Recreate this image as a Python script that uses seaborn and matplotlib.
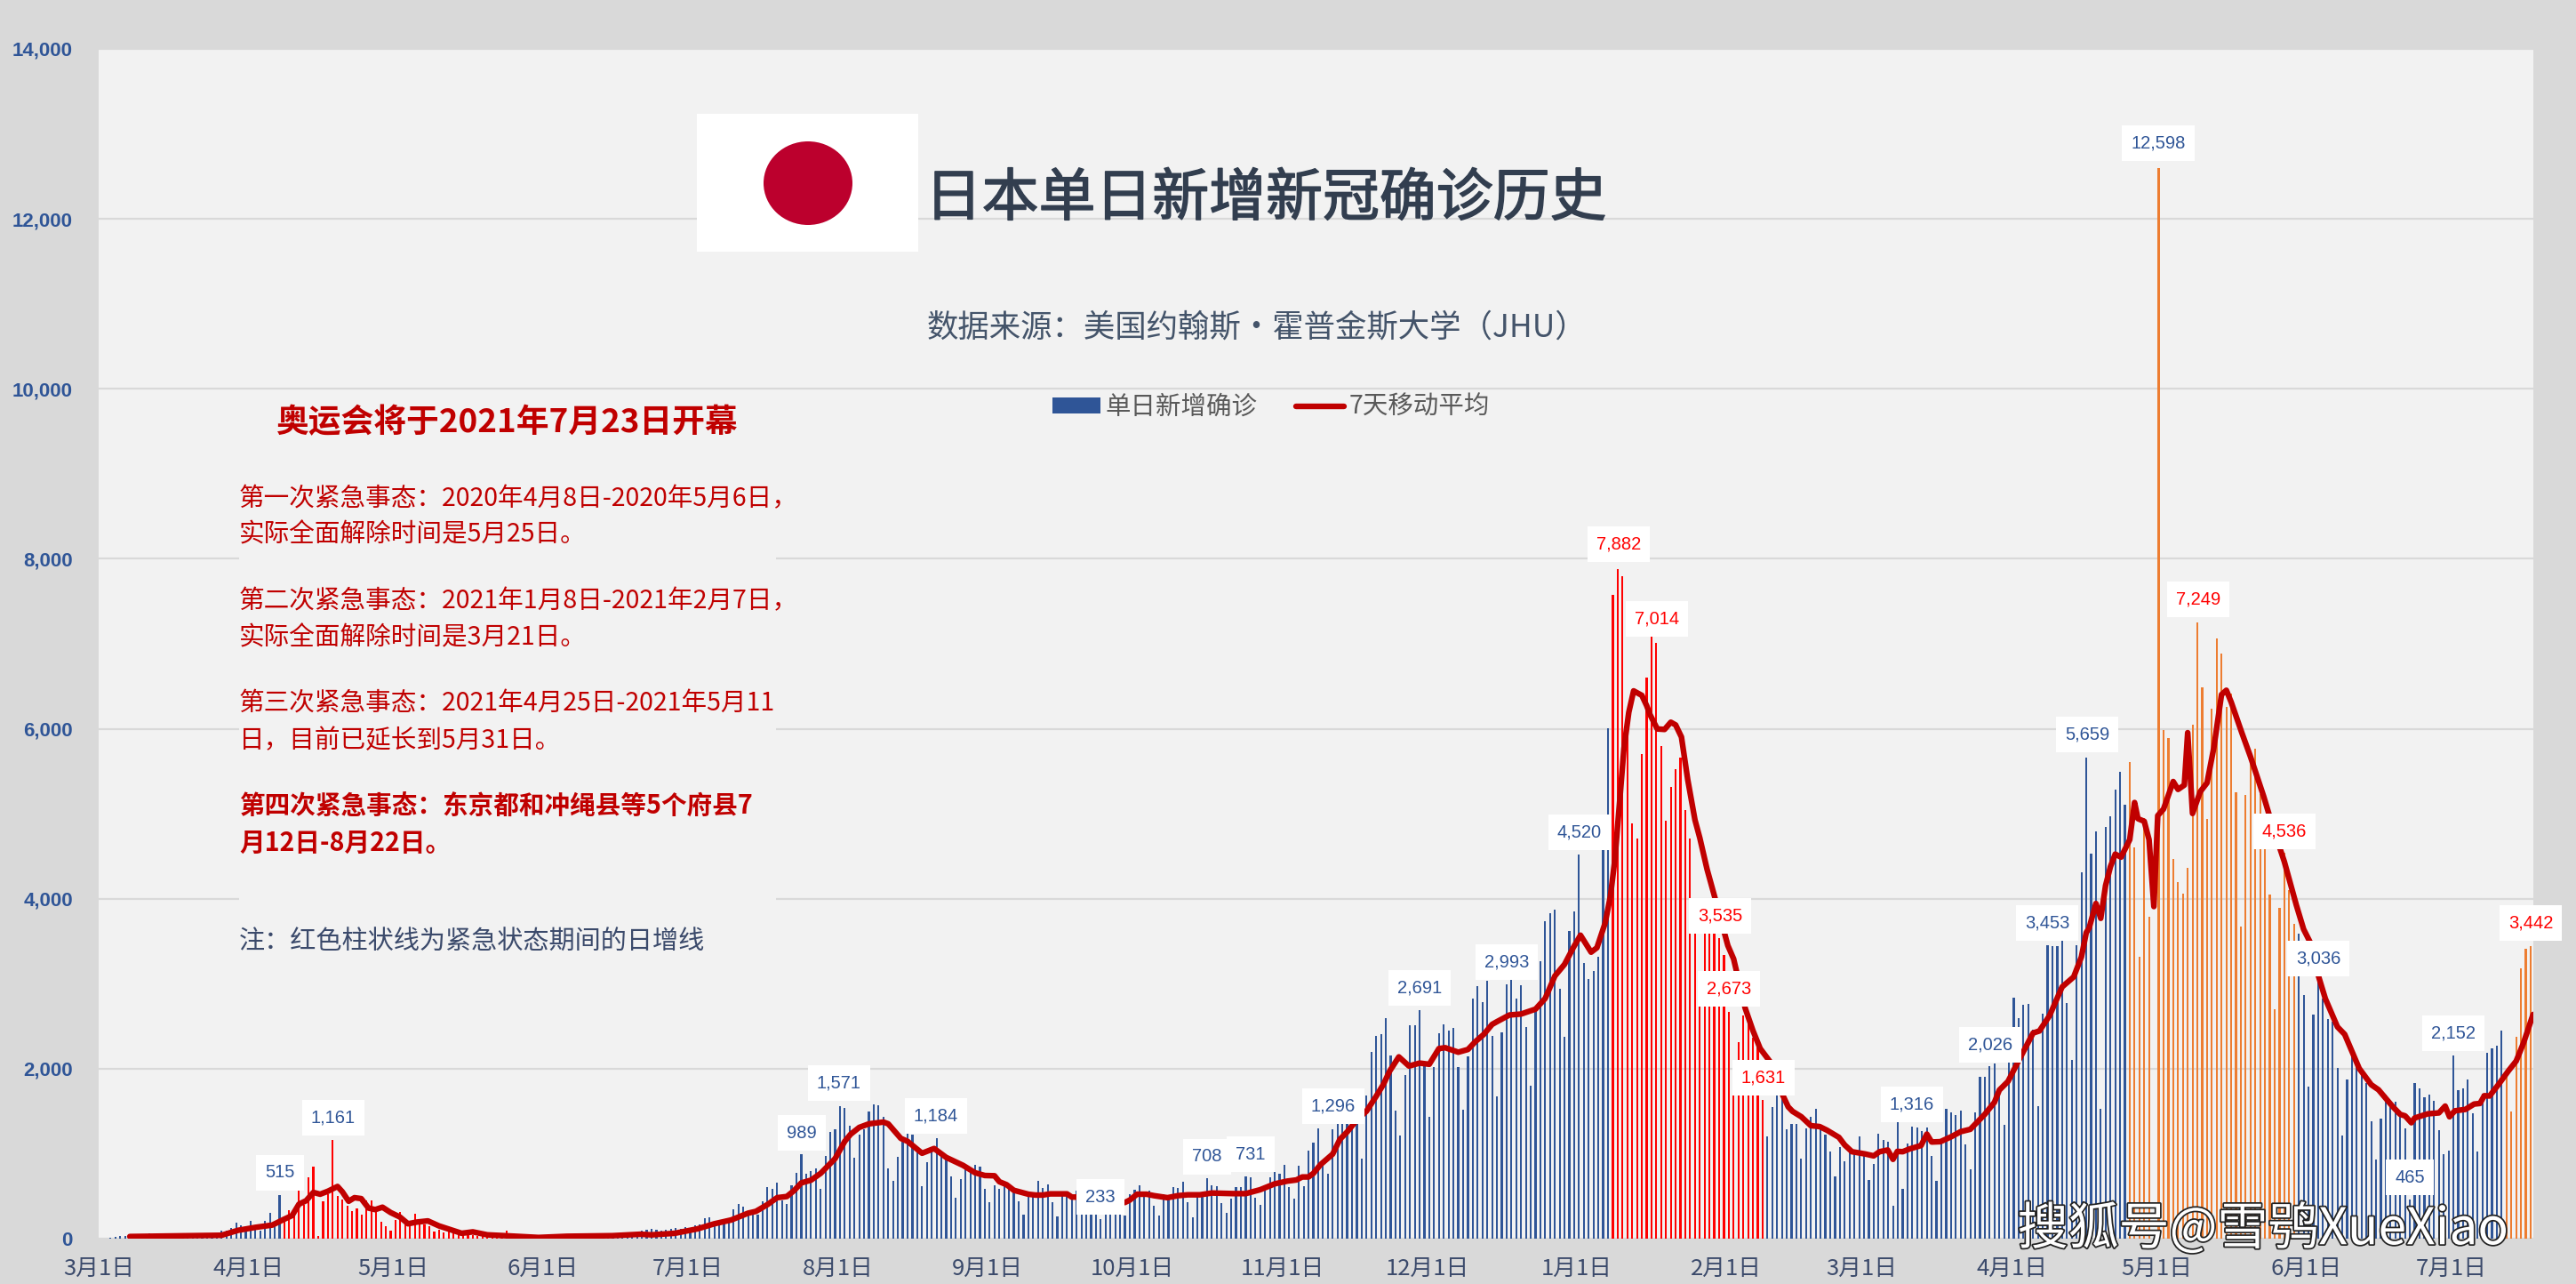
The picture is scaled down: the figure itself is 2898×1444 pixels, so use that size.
#!/usr/bin/python3
import matplotlib
matplotlib.use("Agg")
import matplotlib.pyplot as plt
import matplotlib.patheffects as pe
from matplotlib.lines import Line2D
from matplotlib.patches import Ellipse, Patch, Rectangle
import pandas as pd
import seaborn as sns

# daily new cases, day 0 is 2020-03-01
cases_spring_2020 = [0, 0, 14, 21, 33, 30, 38, 32, 26, 47, 59, 52, 55, 41, 40, 20, 40, 44, 38, 39,
                     41, 40, 63, 54, 65, 90, 95, 130, 185, 160, 135, 209, 140, 98, 209, 300, 150, 515,
                     240, 330, 290, 580, 400, 726, 851, 30, 440, 520, 1161, 500, 464, 390, 325, 360,
                     280, 447, 447, 340, 195, 150, 98, 220, 318, 180, 200, 290, 200, 170, 150, 80,
                     100, 70, 90, 80, 55, 60, 70, 40, 30, 45, 30, 25, 20, 20, 98, 20]
cases_summer_2020 = [30, 25, 35, 40, 45, 40, 35, 40, 45, 50, 40, 45, 50, 45, 40, 50, 60, 45, 50, 40,
                     60, 55, 65, 60, 50, 70, 90, 100, 110, 105, 90, 100, 110, 125, 115, 140, 130, 160,
                     170, 237, 255, 185, 160, 190, 200, 342, 412, 377, 300, 330]
cases_jul_aug = [280, 436, 604, 583, 656, 454, 408, 625, 771, 989, 761, 792, 827, 586, 970, 1253,
                 1284, 1560, 1539, 1330, 953, 1221, 1291, 1497, 1581, 1571, 1431, 827, 680, 960,
                 1152, 1256, 1225, 1012, 614, 900, 1047, 1184, 977, 942, 733, 482, 698, 820, 838, 866]
cases_aug_oct = [848, 586, 426, 628, 586, 645, 593, 558, 440, 279, 541, 523, 680, 597, 639, 429,
                 262, 541, 541, 471, 562, 400, 400, 420, 380, 233, 454, 454, 454, 384, 272, 523,
                 572, 628, 541, 565, 384, 272, 523, 516, 607, 597, 670, 426, 251, 541]
cases_oct_nov = [506, 708, 628, 614, 419, 304, 471, 604, 604, 731, 722, 482, 398, 576, 722, 785,
                 764, 869, 607, 471, 855, 618, 1037, 1127, 1296, 907, 764, 1288, 1368, 1396, 1431,
                 1396, 1396, 942, 1686, 2199, 2387, 2408, 2597, 2157, 1508, 1214, 1926, 2513, 2513, 2691]
cases_dec_jan = [2052, 1435, 2020, 2416, 2521, 2448, 2479, 2020, 1519, 2147, 2827, 2970, 2785, 3033,
                 2384, 1672, 2427, 2993, 3065, 2827, 2980, 2490, 1799, 2685, 3265, 3735, 3830, 3872,
                 2938, 2374, 3619, 3851, 4520, 3244, 3054, 3149, 3318, 4610, 6008, 7580, 7882, 7797,
                 6140, 4890, 4711, 5702]
cases_jan_feb = [6604, 7100, 7014, 5797, 4922, 5317, 5528, 5665, 5043, 4711, 3700, 2900, 3700, 3700,
                 3650, 3535, 3339, 2673, 1750, 2310, 2627, 2564, 2368, 2263, 1631, 1203, 1551, 1704,
                 1683, 1287, 1350, 1350, 944, 1298, 1435, 1525, 1313, 1219, 1023, 733, 1076, 907,
                 1013, 997, 1203, 971]
cases_mar_apr = [688, 880, 1230, 1157, 1137, 391, 1389, 583, 1116, 1316, 1304, 1263, 1304, 974, 676,
                 1116, 1524, 1483, 1450, 1503, 1108, 811, 1491, 1903, 1903, 2026, 2057, 1768, 1340,
                 2078, 2836, 2591, 2750, 2758, 2457, 1564, 2644, 3453, 3439, 3439, 3528, 2774, 2102,
                 3451, 4314, 5659]
cases_apr_jun = [4530, 4792, 1527, 4844, 4972, 5286, 5497, 5106, 5610, 4607, 3317, 4952, 3790, 0,
                 12598, 5985, 5893, 4468, 4196, 4062, 4366, 6052, 7249, 6489, 4941, 6237, 7065, 6880,
                 6258, 6417, 5255, 3671, 5224, 5620, 5769, 5234, 4800, 4052, 2700, 3893, 4536, 4100,
                 3702, 3589, 2869, 1789]
cases_jun_jul = [2638, 3036, 2827, 2586, 2551, 2010, 1215, 1874, 2143, 2038, 1933, 1829, 1382, 928,
                 1413, 1696, 1550, 1612, 1504, 1298, 465, 1832, 1769, 1665, 1696, 1623, 1277, 995,
                 1037, 2152, 1748, 1769, 1874, 1476, 1026, 1707, 2188, 2240, 2272, 2450, 1986, 1497,
                 2377, 3183, 3413, 3442]
cases = (cases_spring_2020 + cases_summer_2020 + cases_jul_aug + cases_aug_oct + cases_oct_nov
         + cases_dec_jan + cases_jan_feb + cases_mar_apr + cases_apr_jun + cases_jun_jul)
assert len(cases) == 504

# 7 day average at the points where the curve bends
ma_days = [6, 25, 28.4, 32, 35.5, 38, 39.6, 41, 42.5, 44, 45.4, 47, 49, 50, 51.3, 52.5, 53.9, 55.4,
           56.8, 58.3, 60, 61.9, 63.6, 65.4, 67.7, 70, 72.4, 74.7, 77, 80, 83.6, 90.6, 96.5, 105.9,
           111.7, 114, 118.8, 123.5, 127, 130.5, 134, 135.6, 138, 140, 142, 143.5, 145, 147, 149,
           152, 154, 155.2, 157, 159, 162, 163, 165.6, 167, 170, 172.5, 175, 178.5, 181, 183, 185,
           186, 187.5, 189, 192, 193.5, 195, 196.5, 200, 201, 202, 212, 213, 214.5, 216.5, 218,
           220.8, 223, 225, 227.5, 230, 234.5, 237, 240, 243, 245.6, 247.5, 248.7, 250, 251, 252.5,
           255, 256.5, 258, 260, 262, 264, 265.5, 266.8, 268.7, 270.8, 273, 275, 277, 278.3, 281,
           283, 284.5, 286.3, 288, 289, 291.6, 294, 297, 299, 301, 303, 304.8, 306.3, 308.5, 309.7,
           311.4, 312.5, 313.4, 314.4, 315.3, 316.3, 317.3, 319, 320, 320.7, 322.2, 323.7, 325,
           326, 327.2, 328.5, 330, 331, 332.5, 334.3, 336.8, 338, 339.2, 340.4, 342, 343.5, 345.6,
           348, 349.3, 350.2, 352, 354, 355.8, 357.3, 359.8, 361, 362.5, 365.2, 367, 368.2, 369.9,
           371, 371.9, 373, 374.4, 376.8, 378, 379, 380.8, 383, 385, 387, 390, 392, 393, 394.8, 397,
           400, 401.3, 403.4, 406, 408.4, 410, 411, 411.6, 413, 414, 415, 416, 417, 418.2, 420, 421,
           421.7, 423, 424, 425, 425.8, 427, 429, 430, 431.3, 432, 433, 434.6, 436, 437.4, 439, 440,
           441, 443.2, 445, 447.7, 449.6, 452, 454.5, 456, 457.6, 459, 460.5, 463, 464.5, 467.5,
           470, 471.5, 474.5, 476, 477, 478.3, 479, 481.7, 484, 485.3, 486.2, 487.3, 489.5, 491.3,
           492.5, 493.4, 494.5, 496.3, 498.4, 500, 501.5, 503.5]
ma_values = [25, 40, 98, 133, 160, 230, 272, 405, 447, 544, 523, 558, 614, 551, 440, 482, 471, 360,
             342, 370, 307, 255, 175, 195, 209, 150, 105, 63, 80, 45, 35, 14, 28, 35,
             52, 45, 63, 115, 175, 220, 300, 321, 401, 482, 496, 565, 656, 688, 768,
             942, 1145, 1228, 1309, 1351, 1372, 1351, 1180, 1145, 1005, 1061, 956, 862, 775, 743, 740,
             670, 635, 569, 523, 513, 513, 527, 527, 489, 489, 426, 454, 523, 523, 506,
             482, 506, 516, 516, 537, 530, 530, 576, 645, 677, 691, 726, 726, 768, 872,
             995, 1169, 1256, 1396, 1500, 1675, 1815, 1972, 2139, 2031, 2066, 2052, 2237, 2247, 2194,
             2226, 2316, 2405, 2521, 2553, 2632, 2643, 2701, 2827, 3091, 3228, 3423, 3571, 3371, 3423,
             3713, 4030, 4452, 5138, 5771, 6193, 6446, 6393, 6272, 6166, 5998, 5992, 6077,
             6045, 5903, 5402, 4927, 4716, 4347, 3977, 3450, 3292, 3002, 2711, 2448, 2237, 2078,
             1709, 1551, 1498, 1435, 1329, 1319, 1277, 1192, 1102, 1023, 997, 974, 1023, 1043,
             933, 1027, 1023, 1055, 1096, 1230, 1137, 1141, 1198, 1259, 1287, 1463, 1605, 1748, 1850, 2094,
             2420, 2444, 2624, 2962, 3080, 3316, 3601, 3656, 3944, 3769, 4155, 4376, 4525, 4489, 4695, 5132,
             4942, 4911, 4695, 3908, 4978, 5055, 5379, 5286, 5337, 5954, 5003, 5260, 5363, 5774, 6402, 6453,
             6314, 5954, 5671, 5209, 4849, 4437, 3923, 3640, 3460, 3103, 2823, 2492, 2404, 2003,
             1811, 1752, 1550, 1462, 1445, 1364, 1420, 1469, 1480, 1560, 1434, 1504, 1521, 1584,
             1591, 1682, 1679, 1811, 1975, 2090, 2300, 2638]

month_days = [0, 31, 61, 92, 122, 153, 184, 214, 245, 275, 306, 337, 365, 396, 426, 457, 487]
month_labels = ["3月1日", "4月1日", "5月1日", "6月1日", "7月1日", "8月1日", "9月1日", "10月1日",
                "11月1日", "12月1日", "1月1日", "2月1日", "3月1日", "4月1日", "5月1日", "6月1日", "7月1日"]
y_ticks = [0, 2000, 4000, 6000, 8000, 10000, 12000, 14000]

# first and last day of each coloured stretch
red_spans = [(38, 85), (313, 344)]
orange_spans = [(420, 454), (498, 503)]

title_text = "日本单日新增新冠确诊历史"
source_text = "数据来源：美国约翰斯·霍普金斯大学（JHU）"
legend_labels = ["单日新增确诊", "7天移动平均"]
olympics_text = "奥运会将于2021年7月23日开幕"
note_lines = ["第一次紧急事态：2020年4月8日-2020年5月6日，", "实际全面解除时间是5月25日。",
              "第二次紧急事态：2021年1月8日-2021年2月7日，", "实际全面解除时间是3月21日。",
              "第三次紧急事态：2021年4月25日-2021年5月11", "日，目前已延长到5月31日。",
              "第四次紧急事态：东京都和冲绳县等5个府县7", "月12日-8月22日。"]
footnote_text = "注：红色柱状线为紧急状态期间的日增线"
watermark_text = "搜狐号@雪鸮XueXiao"

# labelled days
blue_label_days = [37, 48, 145, 161, 173, 207, 229, 237, 252, 273, 291, 306, 375, 391, 403, 411, 426, 459, 478, 487]
red_label_days = [314, 322, 335, 337, 344, 434, 452, 503]

BLUE = "#2F5597"
RED = "#FF0000"
ORANGE = "#ED7D31"
DARK_RED = "#C00000"
W, H = 2898, 1444


def phase_of(day: int) -> str:
    if any(a <= day <= b for a, b in red_spans):
        return "red"
    if any(a <= day <= b for a, b in orange_spans):
        return "orange"
    return "blue"


def fx(x: float) -> float:
    return x / W


def fy(y: float) -> float:
    return 1 - y / H


if __name__ == "__main__":
    sns.set_style("white")
    plt.rcParams["font.family"] = ["Noto Sans CJK SC", "DejaVu Sans"]
    fig = plt.figure(figsize=(W / 100, H / 100), dpi=100, facecolor="#D9D9D9")
    ax = fig.add_axes([fx(111), fy(1393), (2850 - 111) / W, (1393 - 55) / H], facecolor="#F2F2F2")

    df = pd.DataFrame({"day": range(len(cases)), "cases": cases})
    df["phase"] = df["day"].map(phase_of)
    sns.barplot(data=df, x="day", y="cases", hue="phase", native_scale=True, dodge=False, width=0.4,
                palette={"blue": BLUE, "red": RED, "orange": ORANGE}, errorbar=None, legend=False,
                saturation=1, linewidth=0, ax=ax)
    sns.lineplot(x=ma_days, y=ma_values, color=DARK_RED, linewidth=4.6, errorbar=None, ax=ax, zorder=3)

    ax.set_xlim(-0.45, 503.55)
    ax.set_ylim(0, 14000)
    ax.set_xlabel("")
    ax.set_ylabel("")
    sns.despine(ax=ax, left=True, bottom=True, top=True, right=True)
    ax.set_axisbelow(True)
    ax.yaxis.grid(True, color="#D9D9D9", linewidth=1.6)
    ax.xaxis.grid(False)
    ax.set_yticks(y_ticks)
    ax.set_yticklabels([f"{v:,}" for v in y_ticks], family="Liberation Sans", fontweight="bold",
                       fontsize=16, color=BLUE)
    ax.set_xticks([d - 0.45 for d in month_days])
    ax.set_xticklabels(month_labels, fontsize=18.5, color="#3B4A6B")
    ax.tick_params(axis="y", length=0, pad=21)
    ax.tick_params(axis="x", length=0, pad=15)

    # panel behind the notes hides the grid lines, same with the flag
    ax.add_patch(Rectangle((fx(269), fy(1095)), 604 / W, 640 / H, transform=fig.transFigure,
                           facecolor="#F2F2F2", edgecolor="none", zorder=1.5))
    ax.add_patch(Rectangle((fx(784), fy(283)), 249 / W, 155 / H, transform=fig.transFigure,
                           facecolor="white", edgecolor="none", zorder=1.5))
    ax.add_patch(Ellipse((fx(909), fy(206)), 100 / W, 94 / H, transform=fig.transFigure,
                         facecolor="#BC002D", edgecolor="none", zorder=1.6))

    fig.text(fx(1424), fy(224), title_text, fontsize=46, color="#323E4F", ha="center", va="center",
             path_effects=[pe.withStroke(linewidth=1.1, foreground="#323E4F")])
    fig.text(fx(1414), fy(369), source_text, fontsize=25.5, color="#44546A", ha="center", va="center")

    handles = [Patch(facecolor=BLUE, edgecolor="none"), Line2D([], [], color=DARK_RED, linewidth=4.6)]
    fig.legend(handles, legend_labels, loc="center", bbox_to_anchor=(fx(1430), fy(458)), ncol=2,
               frameon=False, fontsize=20.5, labelcolor="#595959", handlelength=1.9, handleheight=0.55,
               handletextpad=0.2, columnspacing=1.5)

    fig.text(fx(571), fy(476), olympics_text, fontsize=26.5, color=DARK_RED, ha="center", va="center",
             fontweight="bold")
    note_ys = [561, 601, 676, 717, 792, 833, 907, 948]
    for i, (line, y) in enumerate(zip(note_lines, note_ys)):
        fig.text(fx(269), fy(y), line, fontsize=20.6, color=DARK_RED, ha="left", va="center",
                 fontweight="bold" if i >= 6 else "normal")
    fig.text(fx(269), fy(1060), footnote_text, fontsize=21, color="#3B4A6B", ha="left", va="center")

    # data labels, box centres in image pixels
    blue_centres = [(315, 1319), (375, 1257), (902, 1274), (944, 1218), (1053, 1255), (1238, 1346),
                    (1358, 1301), (1407, 1298), (1500, 1244), (1597, 1111), (1695, 1082), (1777, 936),
                    (2151, 1242), (2239, 1175), (2303, 1038), (2348, 826), (2428, 161), (2608, 1078),
                    (2711, 1324), (2760, 1162)]
    red_centres = [(1821, 612), (1864, 696), (1935, 1030), (1945, 1112), (1984, 1212), (2473, 674),
                   (2570, 935), (2847, 1038)]
    for days, centres, colour in ((blue_label_days, blue_centres, BLUE), (red_label_days, red_centres, RED)):
        for day, (x, y) in zip(days, centres):
            fig.text(fx(x), fy(y), f"{cases[day]:,}", family="Liberation Sans", fontsize=14.5, color=colour,
                     ha="center", va="center",
                     bbox=dict(boxstyle="square,pad=0.5", facecolor="white", edgecolor="none"))

    fig.text(fx(2546), fy(1383), watermark_text, fontsize=41, color="white", ha="center", va="center",
             path_effects=[pe.withStroke(linewidth=2.5, foreground="#222222")], zorder=5)

    fig.savefig("out.png", dpi=100, facecolor=fig.get_facecolor())
